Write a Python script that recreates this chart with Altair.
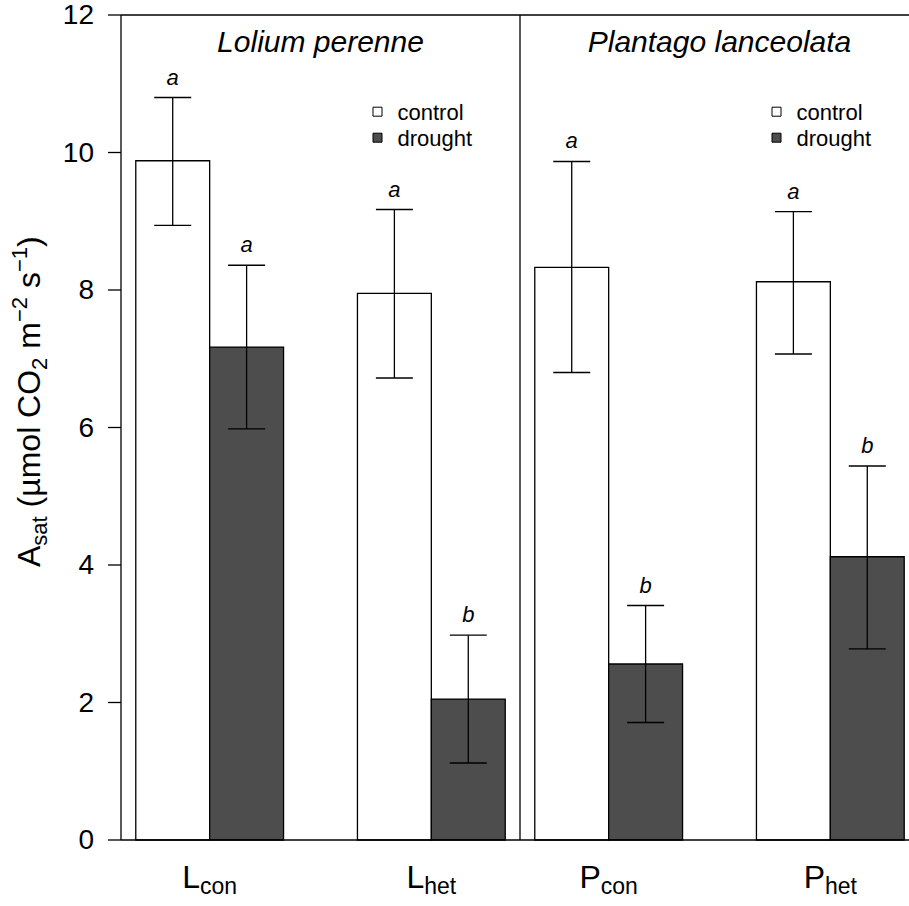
import altair as alt
import pandas as pd

# ---------------- data ----------------
species = ["Lolium perenne", "Plantago lanceolata"]
group_main = ["L", "L", "P", "P"]
group_sub = ["con", "het", "con", "het"]
treatments = ["control", "drought"]
control_mean = [9.88, 7.95, 8.33, 8.12]
control_low = [8.94, 6.72, 6.80, 7.07]
control_high = [10.80, 9.17, 9.87, 9.14]
drought_mean = [7.17, 2.05, 2.56, 4.12]
drought_low = [5.98, 1.12, 1.71, 2.78]
drought_high = [8.36, 2.98, 3.41, 5.44]
control_letters = ["a", "a", "a", "a"]
drought_letters = ["a", "b", "b", "b"]
y_ticks = [0, 2, 4, 6, 8, 10, 12]

# ---------------- layout ----------------
FONT = "Liberation Sans"
W, H = 788, 825
PAD_L, PAD_T, PAD_R, PAD_B = 121, 15, 0, 66
PANEL = 5.4                      # data units per species panel (R barplot layout)
PPU = 399 / PANEL                # pixels per data unit on x
XMIN = 0.8
XMAX = XMIN + W / PPU
YPPU = H / 12.0
LW = 1.3

# Arial / Liberation Sans advance widths (1/1000 em)
AW = {'A': 667, 's': 500, 'a': 556, 't': 278, ' ': 278, '(': 333, 'µ': 576, 'm': 833,
      'o': 556, 'l': 222, 'C': 722, 'O': 778, '2': 556, '−': 584, '1': 556, ')': 333,
      'L': 556, 'P': 667, 'c': 500, 'n': 556, 'h': 556, 'e': 556}


def tw(s, size):
    return sum(AW[c] for c in s) * size / 1000.0


def bar_left(g, t):
    return 1 + PANEL * (g // 2) + 3 * (g % 2) + t


rows = []
for g in range(4):
    vals = [(control_mean[g], control_low[g], control_high[g], control_letters[g]),
            (drought_mean[g], drought_low[g], drought_high[g], drought_letters[g])]
    for t, (m, lo, hi, let) in enumerate(vals):
        left = bar_left(g, t)
        rows.append(dict(treatment=treatments[t], left=left, right=left + 1,
                         center=left + 0.5, mean=m, low=lo, high=hi, letter=let))
df = pd.DataFrame(rows)
one = pd.DataFrame({"k": [0]})
tick_df = pd.DataFrame({"v": y_ticks, "lab": [str(v) for v in y_ticks]})

xs = alt.Scale(domain=[XMIN, XMAX], nice=False, zero=False, padding=0)
ys = alt.Scale(domain=[0, 12], nice=False, zero=True, padding=0)
fill_scale = alt.Scale(domain=treatments, range=["white", "#4d4d4d"])

base = alt.Chart(df)

bars = base.mark_bar(stroke="black", strokeWidth=LW, orient="vertical").encode(
    x=alt.X("left:Q", scale=xs, axis=None),
    x2="right:Q",
    y=alt.Y("mean:Q", scale=ys, stack=None, axis=None),
    y2=alt.Y2(datum=0),
    fill=alt.Fill("treatment:N", scale=fill_scale, legend=None),
)

err = base.mark_rule(color="black", strokeWidth=LW).encode(
    x=alt.X("center:Q", scale=xs, axis=None),
    y=alt.Y("low:Q", scale=ys, axis=None),
    y2="high:Q",
)
cap_hi = base.mark_tick(orient="horizontal", size=37, thickness=1.4, color="black", opacity=1).encode(
    x=alt.X("center:Q", scale=xs, axis=None),
    y=alt.Y("high:Q", scale=ys, axis=None),
)
cap_lo = base.mark_tick(orient="horizontal", size=37, thickness=1.4, color="black", opacity=1).encode(
    x=alt.X("center:Q", scale=xs, axis=None),
    y=alt.Y("low:Q", scale=ys, axis=None),
)
letters = base.mark_text(font=FONT, fontStyle="italic", fontSize=22, baseline="alphabetic",
                         dy=-13, color="black").encode(
    x=alt.X("center:Q", scale=xs, axis=None),
    y=alt.Y("high:Q", scale=ys, axis=None),
    text="letter:N",
)

# frame lines
top_line = alt.Chart(one).mark_rule(color="black", strokeWidth=LW).encode(
    y=alt.Y(datum=12, scale=ys, axis=None))
bottom_line = alt.Chart(one).mark_rule(color="black", strokeWidth=LW).encode(
    y=alt.Y(datum=0, scale=ys, axis=None))
divider = alt.Chart(one).mark_rule(color="black", strokeWidth=LW).encode(
    x=alt.X(datum=XMIN + PANEL, scale=xs, axis=None))

# y axis (drawn explicitly)
y_domain = alt.Chart(one).mark_rule(color="black", strokeWidth=LW).encode(
    x=alt.X(datum=XMIN, scale=xs, axis=None),
    y=alt.Y(datum=0, scale=ys, axis=None), y2=alt.Y2(datum=12))
y_tick_marks = alt.Chart(tick_df).mark_rule(color="black", strokeWidth=LW).encode(
    y=alt.Y("v:Q", scale=ys, axis=None), x=alt.value(-13), x2=alt.value(0))
y_tick_labels = alt.Chart(tick_df).mark_text(
    font=FONT, fontSize=28, align="right", baseline="middle", dy=1, color="black").encode(
    y=alt.Y("v:Q", scale=ys, axis=None), x=alt.value(-27), text="lab:N")

# species titles
title_df = pd.DataFrame(dict(species=species,
                             center=[XMIN + PANEL / 2 + PANEL * p for p in range(2)]))
titles = alt.Chart(title_df).mark_text(font=FONT, fontStyle="italic", fontSize=30,
                                       baseline="alphabetic", align="center",
                                       color="black").encode(
    x=alt.X("center:Q", scale=xs, axis=None),
    y=alt.value(37),
    text="species:N",
)

# legends (one per panel)
leg_rows = []
for p in range(2):
    for t, name in enumerate(treatments):
        leg_rows.append(dict(treatment=name,
                             sx=XMIN + (377.5 - PAD_L) / PPU + PANEL * p,
                             sy=12 - (96.7 + 26 * t) / YPPU,
                             ty=12 - (104.5 + 26.5 * t) / YPPU))
leg_df = pd.DataFrame(leg_rows)
leg_sq = alt.Chart(leg_df).mark_square(size=81, stroke="black", strokeWidth=1, opacity=1).encode(
    x=alt.X("sx:Q", scale=xs, axis=None),
    y=alt.Y("sy:Q", scale=ys, axis=None),
    fill=alt.Fill("treatment:N", scale=fill_scale, legend=None),
)
leg_txt = alt.Chart(leg_df).mark_text(font=FONT, fontSize=22, align="left", baseline="alphabetic",
                                      dx=20, color="black").encode(
    x=alt.X("sx:Q", scale=xs, axis=None),
    y=alt.Y("ty:Q", scale=ys, axis=None),
    text="treatment:N",
)

# x category labels with subscripts
MAIN_X, SUB_X = 32, 23
xlabel_layers = []
for g in range(4):
    center = bar_left(g, 1)
    wm = tw(group_main[g], MAIN_X)
    wsub = tw(group_sub[g], SUB_X)
    start = -(wm + wsub) / 2
    xlabel_layers.append(alt.Chart(one).mark_text(
        font=FONT, fontSize=MAIN_X, align="left", baseline="alphabetic", dx=start, dy=48,
        color="black", text=group_main[g]).encode(
        x=alt.X(datum=center, scale=xs, axis=None), y=alt.Y(datum=0, scale=ys, axis=None)))
    xlabel_layers.append(alt.Chart(one).mark_text(
        font=FONT, fontSize=SUB_X, align="left", baseline="alphabetic", dx=start + wm, dy=54,
        color="black", text=group_sub[g]).encode(
        x=alt.X(datum=center, scale=xs, axis=None), y=alt.Y(datum=0, scale=ys, axis=None)))

# y axis title: A_sat (µmol CO2 m^-2 s^-1), rotated; (text, size, baseline shift, leading gap)
MAIN_Y, SUB_Y = 32, 22
SPACE = tw(" ", MAIN_Y)
pieces = [("A", MAIN_Y, 0, 0), ("sat", SUB_Y, 7, 0), ("(µmol", MAIN_Y, 0, SPACE),
          ("CO", MAIN_Y, 0, SPACE), ("2", SUB_Y, 7, 0),
          ("m", MAIN_Y, 0, SPACE), ("−2", SUB_Y, -13, 0), ("s", MAIN_Y, 0, SPACE),
          ("−1", SUB_Y, -13, 0), (")", MAIN_Y, 0, 0)]
ytitle_layers = []
cur = 552
base_x = 40 - PAD_L
for txt, size, shift, gap in pieces:
    cur -= gap
    ytitle_layers.append(alt.Chart(one).mark_text(
        font=FONT, fontSize=size, align="left", baseline="alphabetic", angle=270,
        color="black", text=txt).encode(
        x=alt.value(base_x + shift), y=alt.value(cur)))
    cur -= tw(txt, size)

chart = alt.layer(
    bars, err, cap_hi, cap_lo, letters, top_line, bottom_line, divider,
    y_domain, y_tick_marks, y_tick_labels, titles,
    leg_sq, leg_txt, *xlabel_layers, *ytitle_layers
).properties(
    width=W, height=H,
    autosize=alt.AutoSizeParams(type="none"),
    padding={"left": PAD_L, "top": PAD_T, "right": PAD_R, "bottom": PAD_B},
).configure(font=FONT).configure_view(stroke=None)

chart.save("out.html", embed_options={"renderer": "svg", "actions": False})
